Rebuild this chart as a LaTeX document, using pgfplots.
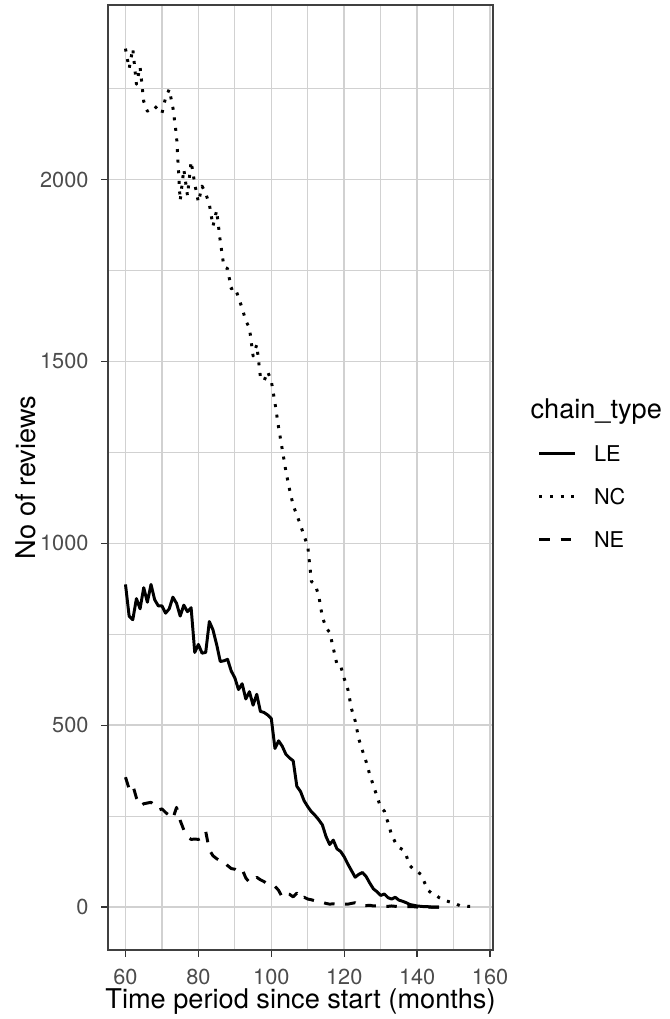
\documentclass[border=0pt]{standalone}
\usepackage{fontspec}
\setmainfont{TeX Gyre Heros}
\usepackage{pgfplots}
\pgfplotsset{compat=1.18}
\usepackage{pgfplotstable}

\pgfplotstableread{
x y
60 887
61 800
62 790
63 848
64 820
65 878
66 838
67 887
68 845
69 828
70 828
71 808
72 820
73 852
74 835
75 800
76 830
77 812
78 823
79 700
80 722
81 698
82 700
83 785
84 762
85 722
86 675
87 677
88 681
89 649
90 630
91 598
92 614
93 572
94 592
95 555
96 585
97 538
98 535
99 528
100 518
101 436
102 457
103 442
104 420
105 410
106 402
107 332
108 318
109 292
110 276
111 262
112 252
113 240
114 226
115 194
116 172
117 184
118 160
119 153
120 138
121 118
122 100
123 82
124 90
125 95
126 84
127 66
128 50
129 42
130 32
131 36
132 26
133 22
134 27
135 19
136 16
137 12
138 7
139 5
140 3
141 2
142 1
143 1
144 0
145 0
146 0
}\dataLE

\pgfplotstableread{
x y
60 2360
61 2305
62 2360
63 2262
64 2310
65 2215
66 2188
67 2195
68 2202
69 2192
70 2182
71 2225
72 2248
73 2198
74 2120
75 1942
76 2028
77 1956
78 2050
79 1988
80 1938
81 1982
82 1962
83 1932
84 1872
85 1915
86 1830
87 1760
88 1755
89 1700
90 1704
91 1676
92 1646
93 1612
94 1592
95 1515
96 1546
97 1458
98 1446
99 1472
100 1446
101 1386
102 1318
103 1258
104 1198
105 1148
106 1104
107 1078
108 1050
109 1020
110 992
111 895
112 888
113 856
114 798
115 768
116 755
117 712
118 667
119 664
120 628
121 598
122 545
123 512
124 462
125 430
126 400
127 364
128 334
129 304
130 274
131 264
132 232
133 198
134 178
135 164
136 158
137 142
138 114
139 104
140 98
141 90
142 68
143 46
144 38
145 34
146 26
147 21
148 17
149 14
150 12
151 7
152 3
153 3
154 2
155 2
156 1
}\dataNC

\pgfplotstableread{
x y
60 357
61 325
62 335
63 300
64 278
65 284
66 286
67 288
68 278
69 266
70 270
71 260
72 252
73 243
74 274
75 238
76 212
77 193
78 186
79 187
80 186
81 190
82 208
83 157
84 141
85 133
86 127
87 126
88 114
89 106
90 104
91 98
92 104
93 80
94 68
95 72
96 82
97 75
98 70
99 63
100 60
101 57
102 46
103 27
104 37
105 35
106 28
107 38
108 22
109 27
110 22
111 20
112 17
113 15
114 13
115 10
116 8
117 9
118 8
119 7
120 8
121 8
122 10
123 12
124 6
125 5
126 4
127 5
128 3
129 3
130 4
131 2
132 2
133 3
134 2
135 1
136 2
137 1
138 1
139 1
140 0
141 1
142 0
143 0
144 0
145 0
146 0
}\dataNE

\begin{document}
\begin{tikzpicture}
\useasboundingbox (0,0) rectangle (270.85pt,412.55pt);
\begin{axis}[
  at={(43.72pt,27.94pt)}, anchor=south west,
  scale only axis, width=155.87pt, height=382.6pt,
  xmin=55.2, xmax=160.8, ymin=-118, ymax=2480,
  xtick={60,80,...,160}, minor xtick={70,90,...,150},
  ytick={0,500,...,2000}, minor ytick={250,750,...,2250},
  grid=both,
  major grid style={color=black!18, line width=0.6pt},
  minor grid style={color=black!18, line width=0.5pt},
  tick align=outside, tick pos=left,
  major tick length=2.75pt, minor tick length=0pt,
  tick style={black!80, line width=0.55pt},
  axis line style={black!75, line width=0.9pt},
  /pgf/number format/assume math mode=true,
  /pgf/number format/1000 sep={},
  ticklabel style={font=\fontsize{8.8}{10}\selectfont, text=black!70},
  xticklabel style={anchor=north, inner sep=0pt, yshift=-4.95pt},
  yticklabel style={anchor=east, inner sep=0pt, xshift=-4.95pt},
  legend image code/.code={\draw[#1] (0pt,0pt) -- (14.2pt,0pt);},
  legend style={draw=none, fill=none, inner sep=0pt, outer sep=0pt,
    at={(1.1168,0.5331)}, anchor=north west,
    font=\fontsize{8.8}{10}\selectfont,
    nodes={inner sep=0pt, anchor=west, text height=6.3pt, text depth=0pt},
    row sep=11.1pt,
    /tikz/every odd column/.append style={column sep=7.3pt}},
  legend cell align=left,
]
\addplot[black, line width=1.2pt, line join=round] table {\dataLE};
\addlegendentry{LE}
\addplot[black, line width=1.2pt, line join=round, dash pattern=on 1.2pt off 3.1pt] table {\dataNC};
\addlegendentry{NC}
\addplot[black, line width=1.2pt, line join=round, dash pattern=on 4.27pt off 4.27pt] table {\dataNE};
\addlegendentry{NE}
\end{axis}
\node[anchor=base, font=\fontsize{11}{13}\selectfont] at (121.66pt,4.25pt) {Time period since start (months)};
\node[anchor=base, rotate=90, font=\fontsize{11}{13}\selectfont] at (14.5pt,219.24pt) {No of reviews};
\node[anchor=base west, inner sep=0pt, font=\fontsize{11}{13}\selectfont] at (214.6pt,243pt) {chain\_type};
\end{tikzpicture}
\end{document}
